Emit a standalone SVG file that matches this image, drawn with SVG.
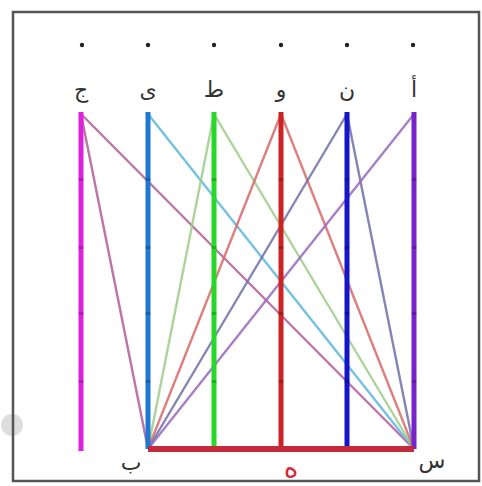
<svg xmlns="http://www.w3.org/2000/svg" width="482" height="486" viewBox="0 0 482 486">
<style>
.lbl{font-family:"Noto Sans","DejaVu Sans",sans-serif;font-size:22px;fill:#333;text-anchor:middle}
.post{stroke-width:5;stroke-linecap:butt}
.edge{stroke-width:2.4;fill:none;stroke-opacity:0.85}
.dot{fill:#222}
.tick{fill:#000;fill-opacity:0.2}
</style>
<rect width="482" height="486" fill="#fff"/>
<circle cx="12" cy="425" r="11" fill="#ddd"/>
<rect x="13" y="12" width="466" height="469" fill="none" stroke="#555" stroke-width="2.5"/>
<g id="connectors">
<line class="edge" x1="81" y1="114" x2="414" y2="449" stroke="#b25c98"/>
<line class="edge" x1="81" y1="114" x2="148" y2="449" stroke="#b25c98"/>
<line class="edge" x1="148" y1="114" x2="414" y2="449" stroke="#5cb6dc"/>
<line class="edge" x1="214" y1="114" x2="414" y2="449" stroke="#9ccc88"/>
<line class="edge" x1="214" y1="114" x2="148" y2="449" stroke="#9ccc88"/>
<line class="edge" x1="281" y1="114" x2="414" y2="449" stroke="#d66868"/>
<line class="edge" x1="281" y1="114" x2="148" y2="449" stroke="#d66868"/>
<line class="edge" x1="347" y1="114" x2="414" y2="449" stroke="#6e6ea8"/>
<line class="edge" x1="347" y1="114" x2="148" y2="449" stroke="#6e6ea8"/>
<line class="edge" x1="414" y1="114" x2="148" y2="449" stroke="#9868bc"/>
</g>
<g id="n1"><circle class="dot" cx="82" cy="45" r="2.2"/><text class="lbl" x="81" y="97">ج</text><line class="post" x1="81" y1="112" x2="81" y2="451" stroke="#dd22dd"/></g>
<g id="n2"><circle class="dot" cx="148" cy="45" r="2.2"/><text class="lbl" x="148" y="97">ی</text><line class="post" x1="148" y1="112" x2="148" y2="449" stroke="#1e78d4"/></g>
<g id="n3"><circle class="dot" cx="214" cy="45" r="2.2"/><text class="lbl" x="214" y="97">ط</text><line class="post" x1="214" y1="112" x2="214" y2="449" stroke="#28d828"/></g>
<g id="n4"><circle class="dot" cx="281" cy="45" r="2.2"/><text class="lbl" x="281" y="97">و</text><line class="post" x1="281" y1="112" x2="281" y2="449" stroke="#cc2424"/></g>
<g id="n5"><circle class="dot" cx="347" cy="45" r="2.2"/><text class="lbl" x="347" y="97">ن</text><line class="post" x1="347" y1="112" x2="347" y2="449" stroke="#1414c8"/></g>
<g id="n6"><circle class="dot" cx="413" cy="45" r="2.2"/><text class="lbl" x="414" y="97">أ</text><line class="post" x1="414" y1="112" x2="414" y2="449" stroke="#7a22cc"/></g>
<g id="ticks">
<rect class="tick" x="78.5" y="178" width="5" height="3"/><rect class="tick" x="78.5" y="246" width="5" height="3"/><rect class="tick" x="78.5" y="312" width="5" height="3"/><rect class="tick" x="78.5" y="380" width="5" height="3"/>
<rect class="tick" x="145.5" y="178" width="5" height="3"/><rect class="tick" x="145.5" y="246" width="5" height="3"/><rect class="tick" x="145.5" y="312" width="5" height="3"/><rect class="tick" x="145.5" y="380" width="5" height="3"/>
<rect class="tick" x="211.5" y="178" width="5" height="3"/><rect class="tick" x="211.5" y="246" width="5" height="3"/><rect class="tick" x="211.5" y="312" width="5" height="3"/><rect class="tick" x="211.5" y="380" width="5" height="3"/>
<rect class="tick" x="278.5" y="178" width="5" height="3"/><rect class="tick" x="278.5" y="246" width="5" height="3"/><rect class="tick" x="278.5" y="312" width="5" height="3"/><rect class="tick" x="278.5" y="380" width="5" height="3"/>
<rect class="tick" x="344.5" y="178" width="5" height="3"/><rect class="tick" x="344.5" y="246" width="5" height="3"/><rect class="tick" x="344.5" y="312" width="5" height="3"/><rect class="tick" x="344.5" y="380" width="5" height="3"/>
<rect class="tick" x="411.5" y="178" width="5" height="3"/><rect class="tick" x="411.5" y="246" width="5" height="3"/><rect class="tick" x="411.5" y="312" width="5" height="3"/><rect class="tick" x="411.5" y="380" width="5" height="3"/>
</g>
<g id="base"><line x1="148" y1="449" x2="414" y2="449" stroke="#c42a3c" stroke-width="6"/></g>
<g id="b"><text class="lbl" x="131" y="470">ب</text></g>
<g id="s"><text class="lbl" x="432" y="468">س</text></g>
<g id="h"><text class="lbl" x="291" y="477" style="fill:#d42a3a;font-size:28px">ه</text></g>
</svg>
